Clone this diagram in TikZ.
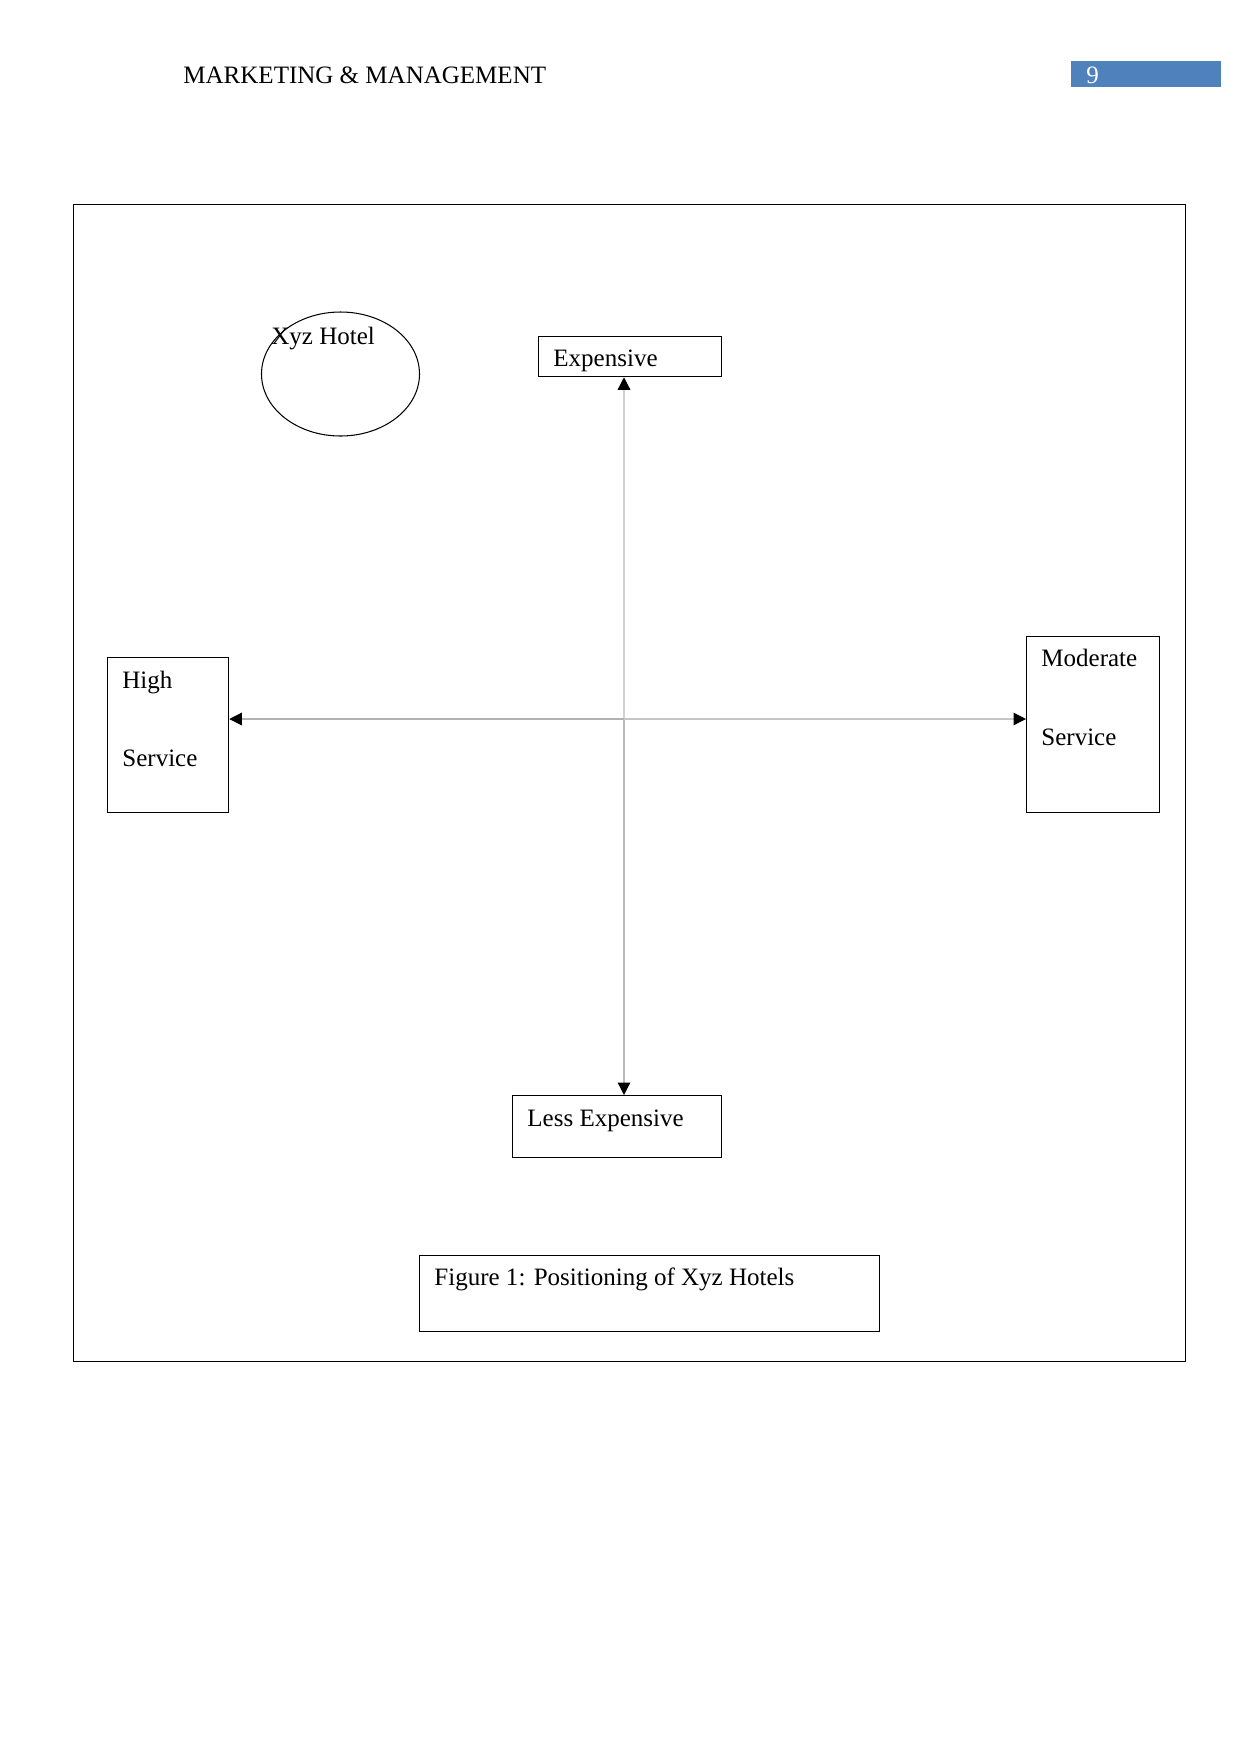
\documentclass[tikz,border=0pt]{standalone}
\usepackage{fontspec}
\setmainfont{Liberation Serif}
\usetikzlibrary{arrows.meta,shapes.geometric}
\definecolor{hdrblue}{HTML}{4F81BD}
\tikzset{
  box/.style={draw=black, line width=0.6pt, rectangle, inner sep=0pt},
  lbl/.style={anchor=base west, inner sep=0pt, font=\fontsize{12}{14}\selectfont},
  axis/.style={line width=0.6pt, -{Triangle[length=6pt,width=6pt,color=black]}},
}
\begin{document}
\begin{tikzpicture}[x=0.47967pt,y=-0.47967pt]
\useasboundingbox (0,0) rectangle (1241,1754);
% header
\node[lbl] (hdr) at (183,83) {MARKETING \& MANAGEMENT};
\node[fill=hdrblue, minimum width=150*0.47967pt, minimum height=26*0.47967pt, inner sep=0pt, anchor=north west] (pg) at (1071,61) {};
\node[lbl, text=white] (pgnum) at (1086,83) {9};
% frame
\node[box, anchor=north west, minimum width=1112*0.47967pt, minimum height=1157*0.47967pt] (frame) at (73,204) {};
% ellipse
\node[draw=black, line width=0.5pt, ellipse, minimum width=158*0.47967pt, minimum height=124*0.47967pt, inner sep=0pt] (xyz) at (340.5,374) {};
\node[lbl] (xyzt) at (271,344) {Xyz Hotel};
% boxes
\node[box, anchor=north west, minimum width=183*0.47967pt, minimum height=40*0.47967pt] (exp) at (538,336) {};
\node[lbl] (expt) at (553,366) {Expensive};
\node[box, anchor=north west, minimum width=209*0.47967pt, minimum height=62*0.47967pt] (less) at (512,1095) {};
\node[lbl] (lesst) at (527,1126) {Less Expensive};
\node[box, anchor=north west, minimum width=121*0.47967pt, minimum height=155*0.47967pt] (high) at (107,657) {};
\node[lbl] (hight1) at (122,688) {High};
\node[lbl] (hight2) at (122,766) {Service};
\node[box, anchor=north west, minimum width=133*0.47967pt, minimum height=176*0.47967pt] (mod) at (1026,636) {};
\node[lbl] (modt1) at (1041,666) {Moderate};
\node[lbl] (modt2) at (1041,745) {Service};
\node[box, anchor=north west, minimum width=460*0.47967pt, minimum height=76*0.47967pt] (cap) at (419,1255) {};
\node[lbl] (capt) at (434,1285) {Figure 1: Positioning of Xyz Hotels};
% axes
\coordinate (c) at (624,719);
\draw[axis, draw=gray!35] (c) -- (c |- exp.south);
\draw[axis, draw=gray!55] (c) -- (c |- less.north);
\draw[axis, draw=gray!60] (c) -- (c -| high.east);
\draw[axis, draw=gray!45] (c) -- (c -| mod.west);
\end{tikzpicture}
\end{document}
